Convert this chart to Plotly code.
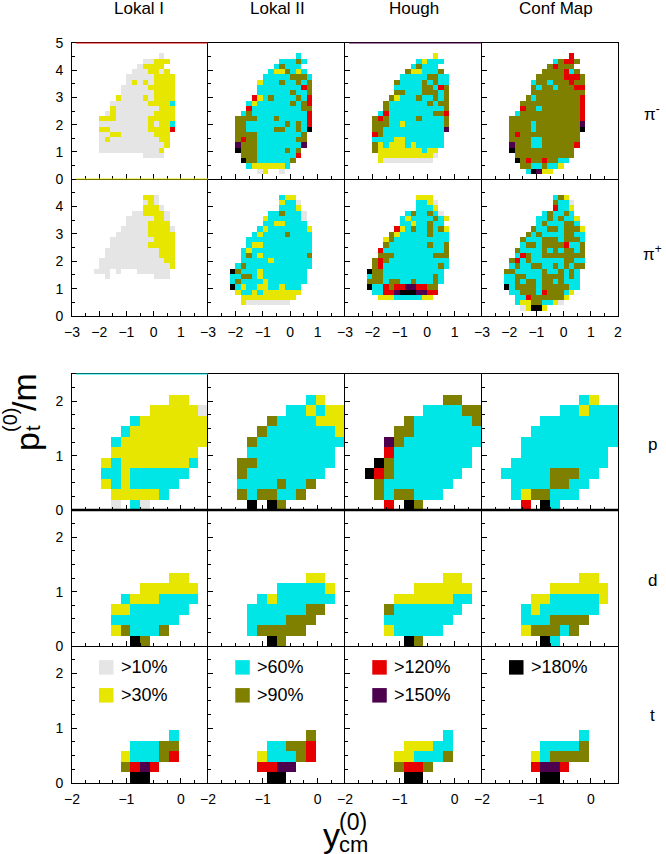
import plotly.graph_objects as go

COLUMNS = ["Lokal I", "Lokal II", "Hough", "Conf Map"]
ROW_LABELS = ["π<sup>-</sup>", "π<sup>+</sup>", "p", "d", "t"]
LEVELS = {"G": 1, "Y": 2, "C": 3, "O": 4, "R": 5, "P": 6, "K": 7}
LEVEL_COLORS = ["#e5e5e5", "#e6e600", "#00e6e6", "#808000", "#e60000", "#4d004d", "#000000"]
KEY_LABELS = [[">10%", ">30%"], [">60%", ">90%"], [">120%", ">150%"], [">180%"]]
KEY_CODES = [["G", "Y"], ["C", "O"], ["R", "P"], ["K"]]

PION_X_TICKS = [-3, -2, -1, 0, 1]
PION_X_TICKS_LAST = [-3, -2, -1, 0, 1, 2]
LIGHT_X_TICKS = [-2, -1, 0]
PI_MINUS_Y_TICKS = [0, 1, 2, 3, 4, 5]
PI_PLUS_Y_TICKS = [0, 1, 2, 3, 4]
LIGHT_Y_TICKS = [0, 1, 2]

# each entry: (y bin, first x bin, level codes)
PIM_LOKAL1 = [(23,16,"G"),(22,13,"GGYYY"),(21,12,"GYYYY"),(20,11,"GGGYYGY"),(19,10,"GGGGGYYYY"),
 (18,10,"GYGYGYYYY"),(17,9,"GGGGGYYYYY"),(16,9,"GGGGGGYYYY"),(15,8,"YGGGGYGYYYY"),(14,7,"GGGGGGGYYYYC"),
 (13,7,"YGGGGGGGGYYY"),(12,6,"GYGGGGGGGYYYY"),(11,5,"YYYGGGGGGYYYYY"),(10,5,"GGGGGGGGGYGYYC"),
 (9,5,"YYGGGGGGGYYYYR"),(8,5,"GGYYGGGGGGYYY"),(7,5,"GYGGGGGGGGGYY"),(6,5,"GGGGGGGGGGGGY"),
 (5,5,"GGGGGGGGGGGY"),(4,13,"GGGG")]
PIM_LOKAL2 = [(23,16,"C"),(22,13,"CCCOC"),(21,12,"COCCC"),(20,11,"CYYOCYC"),(19,10,"CCCCCOOOC"),
 (18,9,"YCCCOCCOCO"),(17,9,"CCCCCCCCRO"),(16,9,"CCCCCCOCCO"),(15,8,"RYCOCCCCOCR"),(14,7,"CYCCCCCCOCOR"),
 (13,7,"RCCCCCCCCCOO"),(12,6,"COCCCCCCCCCCR"),(11,5,"OOOOCCCOCCCCCR"),(10,5,"OOCCCCCCCOCOCR"),
 (9,5,"OOCCCCCOOCCOCK"),(8,5,"OOOOCCCCCCCCO"),(7,5,"OROOCCCCCCCOO"),(6,5,"POOOCCCCCCCCP"),
 (5,5,"KOOOCCCCCOCO"),(4,6,"OOOCCCCCCCR"),(3,6,"KOOCCCCCCO"),(2,7,"CYYYYYYC"),(1,9,"GY..G")]
PIM_HOUGH = [(23,16,"Y"),(22,13,"CYCCC"),(21,12,"COCCC"),(20,11,"OYYCCCO"),(19,10,"CCCCCOOCC"),
 (18,9,"OCCCCOCOCC"),(17,9,"CCCCCOOCRO"),(16,9,"OOCCCOOOCO"),(15,8,"OYCCCOCCOCO"),(14,7,"OCCCCCCCOCOO"),
 (13,7,"OCCCCCCCCCCO"),(12,6,"CRCCCCCCCCOOR"),(11,5,"OROCCCCCOCCCCO"),(10,5,"OOOCCYCCCCCCCO"),
 (9,5,"OOCCCCCCCCCCCP"),(8,5,"ROCCCCCCCCCCC"),(7,5,"CCCCYYCCCCCCC"),(6,5,"OYCYYYCYCCCCC"),
 (5,5,"OYYYYYYYYCYY"),(4,6,"YYYYYYYYYYG"),(3,6,"YGGGGGGGGG")]
PIM_CONF = [(23,16,"R"),(22,13,"CORRO"),(21,12,"OROOO"),(20,11,"OOOORCO"),(19,10,"OOOOORRRO"),
 (18,9,"COOCOOOROO"),(17,9,"OCOOCOOORR"),(16,9,"OOOOOOOOOO"),(15,8,"OCOOOOOOOOR"),(14,7,"OOOOOOOOOOOR"),
 (13,7,"ROOCOOOOOOOR"),(12,6,"COOOOOOOOOOOR"),(11,5,"OOOOOOOOOOOOOR"),(10,5,"OOOOCOOOOOOOOP"),
 (9,5,"OOOOCOOOOOOOOK"),(8,5,"OROOOOOOOOOOO"),(7,5,"OOOOCCOOOOOOO"),(6,5,"POOOCCOOOOOOR"),
 (5,5,"KOOOOOOOOOOO"),(4,6,"OOOOOOOOOOO"),(3,6,"KOROOROOCC"),(2,7,"OOCCOCCY"),(1,8,"CKPYY")]
PIP_LOKAL1 = [(22,13,"YYG"),(21,13,"GYG"),(20,13,"YYYG"),(19,11,"GGYYYYG"),(18,10,"GGGGGYYG"),
 (17,10,"GGGGYYYY"),(16,9,"GGGGGYYYYG"),(15,8,"GGGGGGYYYYY"),(14,7,"GGGGGGGGYYYY"),(13,7,"GGGGGGGYYYYY"),
 (12,6,"GGGGGGGGGGYYY"),(11,6,"GGGGGGGGGGYYY"),(10,5,"GGGGGGGGGGGGYY"),(9,5,"GGGGGGGGGGGGGY"),
 (8,4,"GGG.G...GGGGGG"),(7,6,"G........GGG")]
PIP_LOKAL2 = [(22,13,"CYY"),(21,13,"YCCG"),(20,13,"CCCY"),(19,11,"CCOCCCG"),(18,10,"YCCCCCCG"),
 (17,10,"CCYYCCCC"),(16,9,"CYCCCCCCCY"),(15,8,"CYCCCCOCCCC"),(14,7,"CCCCCCCCCCCC"),(13,7,"CYYCCCCCCCCC"),
 (12,6,"CYCCCCCCCCCCC"),(11,6,"COCYCCCCCCCCO"),(10,6,"CCCCCYCCCCCCC"),(9,5,"COCCCCCCCCCCCC"),
 (8,4,"KOCCCYCCCCCCCC"),(7,4,"CCOOCYCCCCCCCC"),(6,4,"COCCCCYCCCCCCC"),(5,4,"KCYCCYYCCYCCC"),
 (4,5,"YCCYCYYYYYYY"),(3,6,"YYYYYYYYYY"),(2,6,"YGGGGGGGG")]
PIP_HOUGH = [(22,13,"YYY"),(21,13,"CCYG"),(20,13,"CCCY"),(19,11,"COCCOCG"),(18,10,"CYCCCCOCY"),
 (17,10,"CCYCCOCC"),(16,9,"RYCOCCOCOY"),(15,8,"OYCCCCCOCCC"),(14,7,"YOCCCCCCCCCC"),(13,7,"OCCCCCCCOCCO"),
 (12,6,"RCCCCCCCCCCCO"),(11,6,"OOOCCCCCCCOOO"),(10,5,"OROCCCCCCCCCCC"),(9,5,"ORCCCCCCCCCCOC"),
 (8,4,"KOOCCCCCCCCCCC"),(7,4,"COOCCCCCCCCCOC"),(6,4,"OOOCOOCCOCCCOC"),(5,4,"KCCRORRPPRROO"),
 (4,5,"CCRRPKKKPPRR"),(3,6,"YYYCCCCCYY")]
PIP_CONF = [(22,13,"COY"),(21,13,"OCCG"),(20,13,"RCCY"),(19,11,"COCCOC"),(18,10,"CCOCOCCY"),
 (17,10,"COCCCOOC"),(16,9,"OCCOOCOOOY"),(15,8,"OCOCCCCOOCC"),(14,7,"OCCCOOOCOOOC"),(13,7,"COOCOOOORCCO"),
 (12,6,"OCCCCOCOCOOCO"),(11,6,"CROCCOOOOOOOO"),(10,5,"ORCOCCCCCCOOCC"),(9,5,"COCCOOCCOCOCOO"),
 (8,4,"OOCCCCCOCCOCOC"),(7,4,"CCOOCCCOOOOCOC"),(6,4,"CCOCOOCOOCOCCC"),(5,4,"KCOOOOCOOOOOCC"),
 (4,5,"CCOOOCROOOCY"),(3,6,"CCROOOOOOY"),(2,6,"CYYOOCCYG"),(1,7,"GYKKY")]
P_LOKAL1 = [(10,10,"YY"),(9,8,"YYYYYG"),(8,6,"CYYYYYYY"),(7,5,"CYYYYYYYY"),(6,4,"CYYYYYYYYY"),
 (5,4,"YYYYYYYYY"),(4,3,"YCYYYYYYYC"),(3,3,"CCYCCCCCC"),(2,3,"YCYCCCCC"),(1,4,"YYYYYC"),(0,4,"G.CG")]
P_LOKAL2 = [(10,10,"CY"),(9,8,"CCYCYY"),(8,6,"OCCCCYYY"),(7,5,"OCCCCCCCY"),(6,4,"OCCCCCCCCC"),
 (5,4,"CCCCCCCCC"),(4,3,"OOCCCCCCCC"),(3,3,"OCCCCCCCC"),(2,3,"CCCCOCCO"),(1,3,"OCOOCCO"),(0,4,"K.KO")]
P_HOUGH = [(10,10,"OO"),(9,8,"CCCCOO"),(8,6,"OCCCCCCO"),(7,5,"OOCCCCCCC"),(6,4,"POCCCCCCCC"),
 (5,4,"RCCCCCCCC"),(4,3,"KOCCCCCCCC"),(3,2,"KROCCCCCCC"),(2,3,"OCCCCCCC"),(1,3,"OCOOCCC"),(0,4,"R.KO")]
P_CONF = [(10,10,"CY"),(9,8,"CCYCCC"),(8,6,"CCCCCCCC"),(7,5,"CCCCCCCCC"),(6,4,"CCCCCCCCCC"),
 (5,4,"CCCCCCCCC"),(4,3,"CCCCCCCCCC"),(3,2,"CCCCCOOOCC"),(2,3,"CCCCOOCC"),(1,3,"CYOOCCC"),(0,4,"R.KC")]
D_LOKAL1 = [(6,10,"YY"),(5,7,"YYYYYY"),(4,5,"CYYYCCCC"),(3,4,"YYCCCCCC"),(2,4,"CCCCCCC"),(1,4,"YOCCCO"),(0,6,"KO")]
D_LOKAL2 = [(6,10,"YY"),(5,7,"CCCCCY"),(4,5,"CYCCCCCC"),(3,4,"CCCCCCOO"),(2,4,"CCCCOOO"),(1,4,"COOOOO"),(0,6,"KO")]
D_HOUGH = [(6,10,"YY"),(5,7,"YYYYYY"),(4,5,"YYYYYYCC"),(3,4,"OCCCCCCC"),(2,4,"CCCCCCC"),(1,4,"YCCCCC"),(0,6,"KO")]
D_CONF = [(6,10,"YY"),(5,7,"YYYYYY"),(4,5,"YYCCCCCY"),(3,4,"CYCCCCCC"),(2,4,"CCCOOOO"),(1,4,"YOOOCO"),(0,6,"KC")]
T_LOKAL1 = [(4,10,"C"),(3,6,"CCCOO"),(2,5,"YCCCOR"),(1,5,"ORPR"),(0,6,"KK")]
T_LOKAL2 = [(4,10,"O"),(3,6,"CCOOR"),(2,5,"YCCCOR"),(1,5,"RRPP"),(0,6,"KK")]
T_HOUGH = [(4,10,"C"),(3,6,"YYYCC"),(2,5,"YYCCCO"),(1,5,"ORRO"),(0,6,"KK")]
T_CONF = [(4,10,"C"),(3,6,"CCCCO"),(2,5,"YCOOOO"),(1,5,"RPPR"),(0,6,"KK")]

GRID = [[PIM_LOKAL1, PIM_LOKAL2, PIM_HOUGH, PIM_CONF],
        [PIP_LOKAL1, PIP_LOKAL2, PIP_HOUGH, PIP_CONF],
        [P_LOKAL1, P_LOKAL2, P_HOUGH, P_CONF],
        [D_LOKAL1, D_LOKAL2, D_HOUGH, D_CONF],
        [T_LOKAL1, T_LOKAL2, T_HOUGH, T_CONF]]

W, H = 666, 854
COL_EDGES = [72, 208, 345, 482, 618]
ROW_SPANS = [(43, 179), (179, 316), (374, 510), (510, 646), (646, 783)]
TITLE_CENTERS = [139, 277, 414, 556]
FONT = "Liberation Sans, Arial, sans-serif"
AXIS = "#000000"

fig = go.Figure()
scale = [[i / 6, c] for i, c in enumerate(LEVEL_COLORS)]
layout = {}
annotations = []
shapes = []


def px(x, y):
    return x / W, 1 - y / H


def note(x, y, text, size, **kw):
    ax, ay = px(x, y)
    annotations.append(dict(x=ax, y=ay, xref="paper", yref="paper", text=text, showarrow=False,
                            font=dict(family=FONT, size=size, color="#000"),
                            xanchor=kw.pop("xanchor", "center"), yanchor=kw.pop("yanchor", "middle"), **kw))


for r, row in enumerate(GRID):
    pion = r < 2
    x_start = -3 if pion else -2
    x_end = 2 if pion else 0.5
    y_end = 5 if pion else 2.5
    dx = 0.2 if pion else 2.5 / 14
    dy = 5 / 26 if pion else 2.5 / 13
    nx, ny = (25, 26) if pion else (14, 13)
    for c, cells in enumerate(row):
        n = r * 4 + c + 1
        sfx = "" if n == 1 else str(n)
        z = [[None] * nx for _ in range(ny)]
        for j, i0, codes in cells:
            for k, code in enumerate(codes):
                if code != ".":
                    z[j][i0 + k] = LEVELS[code]
        fig.add_trace(go.Heatmap(z=z, x0=x_start + dx / 2, dx=dx, y0=dy / 2, dy=dy, zmin=1, zmax=7,
                                 colorscale=scale, showscale=False, xaxis="x" + sfx, yaxis="y" + sfx,
                                 hoverongaps=False))
        if pion:
            xt = PION_X_TICKS_LAST if c == 3 else PION_X_TICKS
            yt = PI_MINUS_Y_TICKS if r == 0 else PI_PLUS_Y_TICKS
            xminor, yminor = 0.5, 0.5
        else:
            xt, yt = LIGHT_X_TICKS, LIGHT_Y_TICKS
            xminor, yminor = 0.25, 0.25
        top, bottom = ROW_SPANS[r]
        show_x = r in (1, 4)
        common = dict(showgrid=False, zeroline=False, showline=True, linecolor=AXIS, linewidth=1,
                      ticks="inside", ticklen=5, tickwidth=1, tickcolor=AXIS, tickmode="array", automargin=False,
                      tickfont=dict(family=FONT, size=14, color="#000"), layer="above traces")
        layout["xaxis" + sfx] = dict(common, domain=[COL_EDGES[c] / W, COL_EDGES[c + 1] / W], range=[x_start, x_end],
                                     tickvals=xt, showticklabels=show_x, anchor="y" + sfx, ticklabelstandoff=3,
                                     mirror=r in (0, 2),
                                     minor=dict(dtick=xminor, tick0=x_start, ticks="inside", ticklen=3,
                                                tickwidth=1, tickcolor=AXIS, showgrid=False))
        layout["yaxis" + sfx] = dict(common, domain=[1 - bottom / H, 1 - top / H], range=[0, y_end],
                                     tickvals=yt, showticklabels=c == 0, anchor="x" + sfx, ticklabelstandoff=5,
                                     mirror=c == 3,
                                     minor=dict(dtick=yminor, tick0=0, ticks="inside", ticklen=3,
                                                tickwidth=1, tickcolor=AXIS, showgrid=False))
        xd, yd = "x%s domain" % sfx, "y%s domain" % sfx
        if r == 2:
            shapes.append(dict(type="line", xref=xd, yref=yd, x0=0, x1=1, y0=0, y1=0,
                               line=dict(color="#000", width=2.5)))
        accent = {(0, 0): [("#e60000", 1), ("#e6e600", 0)], (0, 2): [("#4d004d", 1)], (2, 0): [("#00e6e6", 1)]}
        for color, yy in accent.get((r, c), []):
            shapes.append(dict(type="line", xref=xd, yref=yd, x0=0.03, x1=1, y0=yy, y1=yy,
                               line=dict(color=color, width=1.2)))
        if r == 4:
            for k, (label, code) in enumerate(zip(KEY_LABELS[c], KEY_CODES[c])):
                yy = 2.11 - 0.51 * k
                fig.add_trace(go.Scatter(x=[-1.37], y=[yy], mode="markers", xaxis="x" + sfx, yaxis="y" + sfx,
                                         marker=dict(symbol="square", size=14.5,
                                                     color=LEVEL_COLORS[LEVELS[code] - 1]), hoverinfo="skip"))
                annotations.append(dict(x=-1.37 + 12.5 / 54.8, y=yy, xref="x" + sfx, yref="y" + sfx, text=label,
                                        showarrow=False, xanchor="left", yanchor="middle",
                                        font=dict(family=FONT, size=18, color="#000")))

for center, name in zip(TITLE_CENTERS, COLUMNS):
    note(center, 8, name, 17)
for label, y in zip(ROW_LABELS, [113, 253, 444, 580, 715]):
    note(652, y, label, 17)

# stacked axis titles
note(27, 442, "p", 34, textangle=-90)
note(33, 428, "t", 20, textangle=-90)
note(10, 420, "(0)", 20, textangle=-90)
note(24, 392, "/m", 34, textangle=-90)
note(331, 835, "y", 34)
note(353, 822, "(0)", 23)
note(353, 844, "cm", 22)

fig.update_layout(**layout)
fig.update_layout(width=W, height=H, margin=dict(l=0, r=0, t=0, b=0), paper_bgcolor="white", plot_bgcolor="white",
                  showlegend=False, annotations=annotations, shapes=shapes)
fig.write_html("out.html", config={"displayModeBar": False}, post_script="document.body.style.margin='0';")
